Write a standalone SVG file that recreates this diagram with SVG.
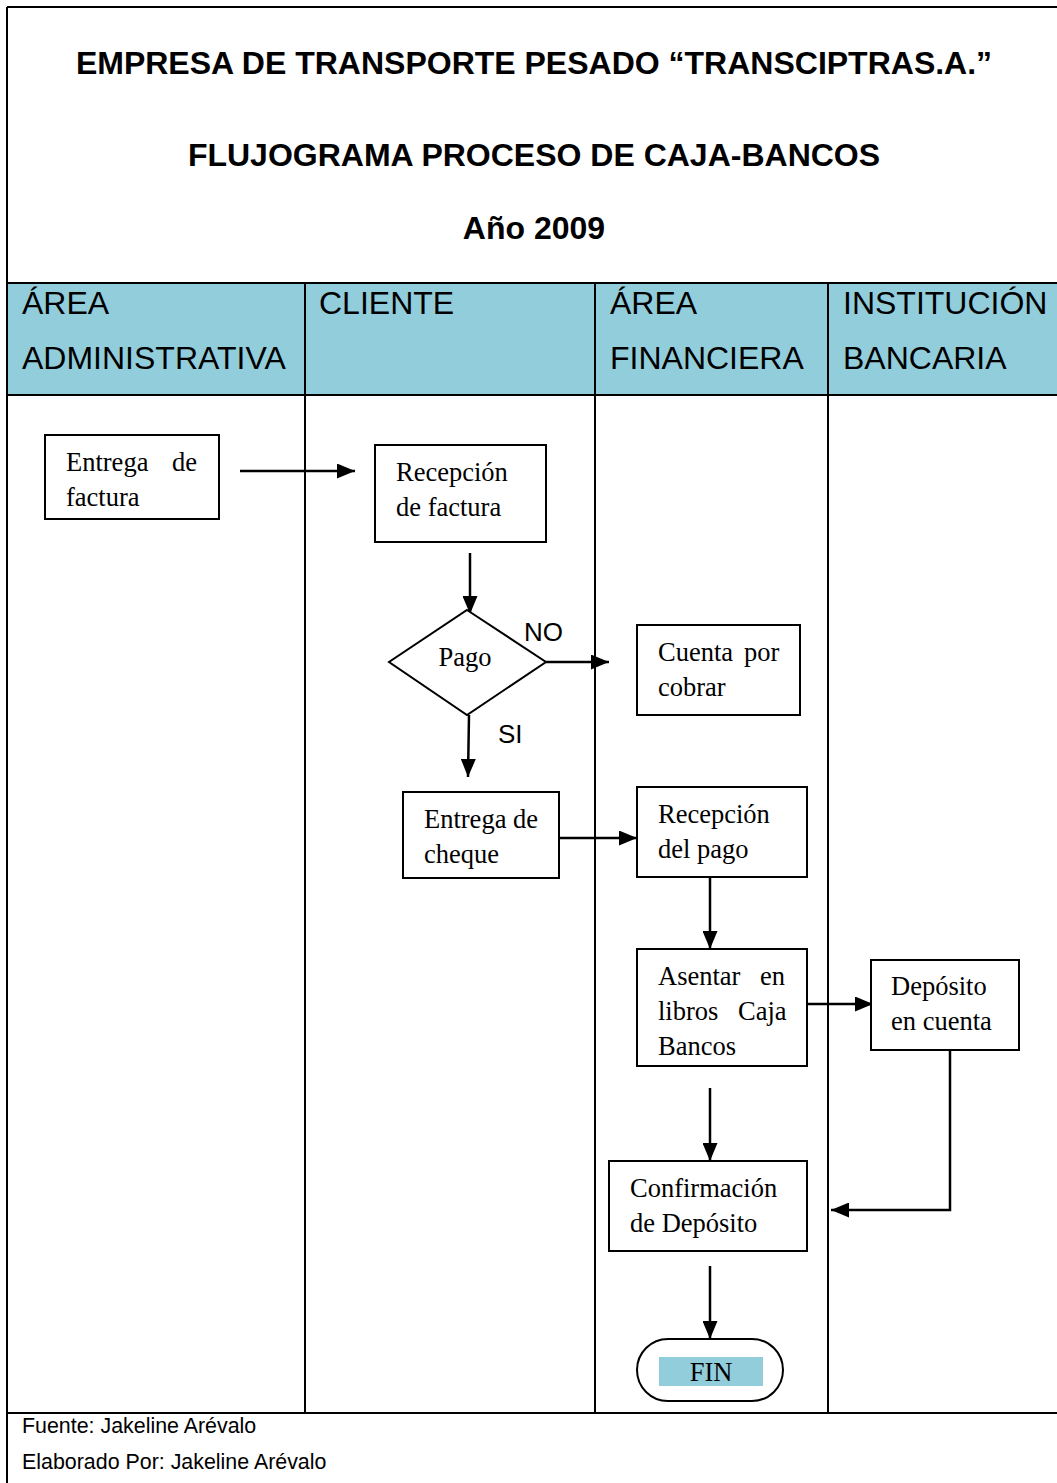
<svg xmlns="http://www.w3.org/2000/svg" width="1057" height="1483" viewBox="0 0 1057 1483">
<style>
.title{font-family:"Liberation Sans",Arial,sans-serif;font-weight:bold;font-size:32px;fill:#000;text-anchor:middle}
.hdr{font-family:"Liberation Sans",Arial,sans-serif;font-size:32px;fill:#000}
.lbl{font-family:"Liberation Serif","Times New Roman",serif;font-size:26.5px;fill:#000}
.yn{font-family:"Liberation Sans",Arial,sans-serif;font-size:26px;fill:#000}
.foot{font-family:"Liberation Sans",Arial,sans-serif;font-size:21.4px;fill:#000}
.box{fill:#fff;stroke:#000;stroke-width:2}
.lane{stroke:#000;stroke-width:2;fill:none}
.con{stroke:#000;stroke-width:2.5;fill:none}
</style>
<defs>
<marker id="ah" markerWidth="18" markerHeight="15" refX="18" refY="7.5" orient="auto" markerUnits="userSpaceOnUse">
<path d="M0,0 L18,7.5 L0,15 Z" fill="#000"/>
</marker>
</defs>
<rect x="0" y="0" width="1057" height="1483" fill="#fff"/>
<g id="frame">
<rect x="7" y="283" width="1050" height="112" fill="#92CDDC"/>
<line class="lane" x1="7" y1="7" x2="1057" y2="7"/>
<line class="lane" x1="7" y1="7" x2="7" y2="1483"/>
<line class="lane" x1="7" y1="283" x2="1057" y2="283" stroke-width="2.5"/>
<line class="lane" x1="7" y1="395" x2="1057" y2="395" stroke-width="2.5"/>
<line class="lane" x1="305" y1="283" x2="305" y2="1413"/>
<line class="lane" x1="595" y1="283" x2="595" y2="1413"/>
<line class="lane" x1="828" y1="283" x2="828" y2="1413"/>
<line class="lane" x1="7" y1="1413" x2="1057" y2="1413"/>
</g>
<g id="titles">
<text class="title" x="534" y="74">EMPRESA DE TRANSPORTE PESADO “TRANSCIPTRAS.A.”</text>
<text class="title" x="534" y="166">FLUJOGRAMA PROCESO DE CAJA-BANCOS</text>
<text class="title" x="534" y="239">Año 2009</text>
</g>
<g id="headers">
<text class="hdr" x="22" y="314">ÁREA</text>
<text class="hdr" x="22" y="369">ADMINISTRATIVA</text>
<text class="hdr" x="319" y="314">CLIENTE</text>
<text class="hdr" x="610" y="314">ÁREA</text>
<text class="hdr" x="610" y="369">FINANCIERA</text>
<text class="hdr" x="843" y="314">INSTITUCIÓN</text>
<text class="hdr" x="843" y="369">BANCARIA</text>
</g>
<g id="connectors">
<line class="con" x1="240" y1="471" x2="355" y2="471" marker-end="url(#ah)"/>
<line class="con" x1="470" y1="553" x2="470" y2="614" marker-end="url(#ah)"/>
<line class="con" x1="546" y1="662" x2="609" y2="662" marker-end="url(#ah)"/>
<line class="con" x1="469" y1="715" x2="468" y2="777" marker-end="url(#ah)"/>
<line class="con" x1="559" y1="838" x2="637" y2="838" marker-end="url(#ah)"/>
<line class="con" x1="710" y1="877" x2="710" y2="949" marker-end="url(#ah)"/>
<line class="con" x1="807" y1="1004" x2="873" y2="1004" marker-end="url(#ah)"/>
<line class="con" x1="710" y1="1088" x2="710" y2="1161" marker-end="url(#ah)"/>
<polyline class="con" points="950,1050 950,1210 831,1210" stroke-width="2" marker-end="url(#ah)"/>
<line class="con" x1="710" y1="1266" x2="710" y2="1339" marker-end="url(#ah)"/>
<text class="yn" x="524" y="641">NO</text>
<text class="yn" x="498" y="743">SI</text>
</g>
<g id="n1">
<rect class="box" x="45" y="435" width="174" height="84"/>
<text class="lbl" x="66" y="471">Entrega<tspan x="172">de</tspan></text>
<text class="lbl" x="66" y="506">factura</text>
</g>
<g id="n2">
<rect class="box" x="375" y="445" width="171" height="97"/>
<text class="lbl" x="396" y="481">Recepción</text>
<text class="lbl" x="396" y="516">de factura</text>
</g>
<g id="n3">
<polygon class="box" points="467,610 546,662 467,715 389,662"/>
<text class="lbl" x="465" y="666" text-anchor="middle">Pago</text>
</g>
<g id="n4">
<rect class="box" x="637" y="625" width="163" height="90"/>
<text class="lbl" x="658" y="661">Cuenta<tspan x="744">por</tspan></text>
<text class="lbl" x="658" y="696">cobrar</text>
</g>
<g id="n5">
<rect class="box" x="403" y="792" width="156" height="86"/>
<text class="lbl" x="424" y="828">Entrega de</text>
<text class="lbl" x="424" y="863">cheque</text>
</g>
<g id="n6">
<rect class="box" x="637" y="787" width="170" height="90"/>
<text class="lbl" x="658" y="823">Recepción</text>
<text class="lbl" x="658" y="858">del pago</text>
</g>
<g id="n7">
<rect class="box" x="637" y="949" width="170" height="117"/>
<text class="lbl" x="658" y="985">Asentar<tspan x="760">en</tspan></text>
<text class="lbl" x="658" y="1020">libros<tspan x="738">Caja</tspan></text>
<text class="lbl" x="658" y="1055">Bancos</text>
</g>
<g id="n8">
<rect class="box" x="871" y="960" width="148" height="90"/>
<text class="lbl" x="891" y="995">Depósito</text>
<text class="lbl" x="891" y="1030">en cuenta</text>
</g>
<g id="n9">
<rect class="box" x="609" y="1161" width="198" height="90"/>
<text class="lbl" x="630" y="1197">Confirmación</text>
<text class="lbl" x="630" y="1232">de Depósito</text>
</g>
<g id="n10">
<rect class="box" x="637" y="1339" width="146" height="62" rx="31" ry="31"/>
<rect x="659" y="1357" width="104" height="29" fill="#92CDDC"/>
<text class="lbl" x="711" y="1381" text-anchor="middle">FIN</text>
</g>
<g id="footer">
<text class="foot" x="22" y="1433">Fuente: Jakeline Arévalo</text>
<text class="foot" x="22" y="1469">Elaborado Por: Jakeline Arévalo</text>
</g>
</svg>
